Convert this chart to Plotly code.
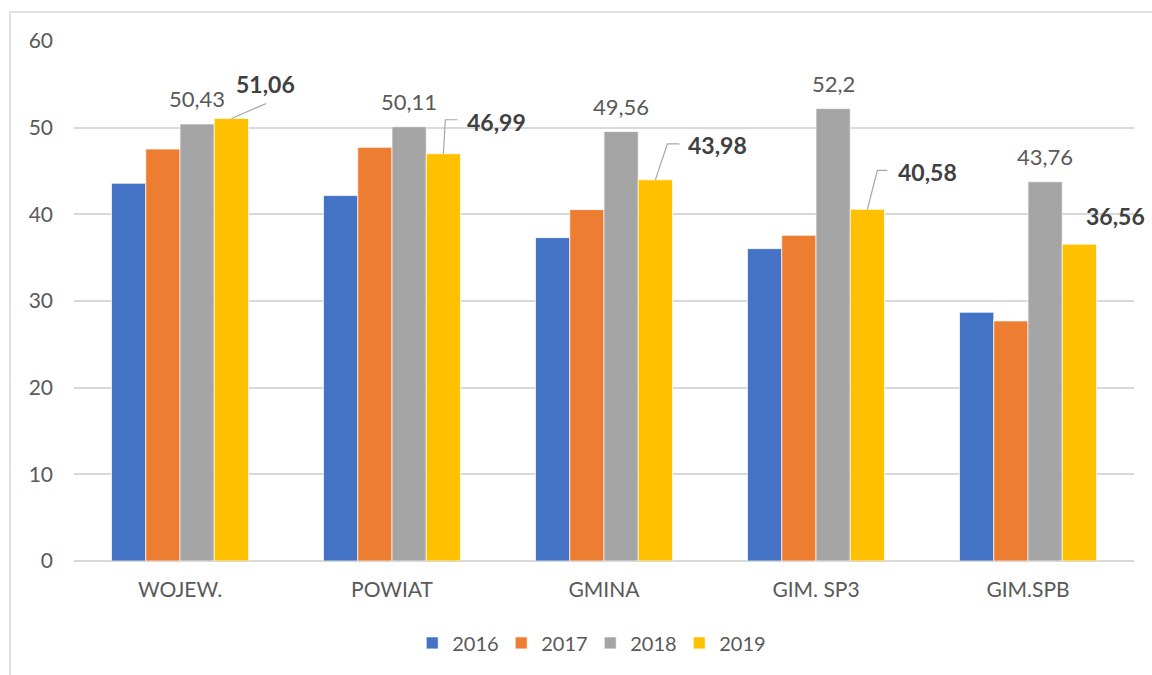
import plotly.graph_objects as go

categories = ["WOJEW.", "POWIAT", "GMINA", "GIM. SP3", "GIM.SPB"]
years = ["2016", "2017", "2018", "2019"]
v2016 = [43.58, 42.16, 37.31, 36.04, 28.7]
v2017 = [47.53, 47.73, 40.54, 37.58, 27.7]
v2018 = [50.43, 50.11, 49.56, 52.2, 43.76]
v2019 = [51.06, 46.99, 43.98, 40.58, 36.56]
y_ticks = [0, 10, 20, 30, 40, 50, 60]

colors = ["#4472C4", "#ED7D31", "#A5A5A5", "#FFC000"]
series = [v2016, v2017, v2018, v2019]

# layout in pixels
W, H = 1152, 675
L, R, T, B = 74, 18, 41, 114
FONT = "Lato"
TXT = "#595959"

bargap = 0.354
bw = (1 - bargap) / 4  # bar width in category units
off_gray = 0.5 * bw
off_yellow = 1.5 * bw

# label placement for 2019 (pixel offsets from bar-top centre; y up)
lab19_text = [(34, 34), (53, 32), (62, 35), (60, 37), (36, 28)]
lab19_line = [[(35, 15)], [(2, 34), (14, 34)], [(12, 36), (24, 36)], [(10, 39), (20, 39)], []]

fig = go.Figure()
for name, vals, c in zip(years, series, colors):
    fig.add_trace(go.Bar(
        name=name, x=categories, y=vals, marker_color=c,
        marker_line=dict(color="white", width=0.7),
    ))

def fmt(v):
    return f"{v:g}".replace(".", ",")

annotations = []
shapes = []
for i, v in enumerate(v2018):
    annotations.append(dict(
        x=i + off_gray, y=v, xref="x", yref="y", text=fmt(v), showarrow=False,
        yshift=25, xanchor="center", yanchor="middle",
        font=dict(family=FONT, size=22, color=TXT),
    ))
for i, v in enumerate(v2019):
    dx, dy = lab19_text[i]
    annotations.append(dict(
        x=i + off_yellow, y=v, xref="x", yref="y", text="<b>" + fmt(v) + "</b>",
        showarrow=False, xshift=dx, yshift=dy, xanchor="center", yanchor="middle",
        font=dict(family=FONT, size=23, color="#404040"),
    ))
    pts = lab19_line[i]
    if pts:
        path = "M 0 0 " + " ".join(f"L {px} {py}" for px, py in pts)
        shapes.append(dict(
            type="path", xref="x", yref="y", xsizemode="pixel", ysizemode="pixel",
            xanchor=i + off_yellow, yanchor=v, path=path,
            line=dict(color="#A6A6A6", width=1.2),
        ))

# outer chart border
pw, ph = W - L - R, H - T - B
shapes.append(dict(
    type="rect", xref="paper", yref="paper",
    x0=(10 - L) / pw, x1=(W + 5 - L) / pw,
    y0=-(B + 5) / ph, y1=(H - B - 12) / ph,
    line=dict(color="#D9D9D9", width=1.5), fillcolor="rgba(0,0,0,0)", layer="below",
))

fig.update_layout(
    width=W, height=H,
    margin=dict(l=L, r=R, t=T, b=B, autoexpand=False),
    paper_bgcolor="white", plot_bgcolor="white",
    barmode="group", bargap=bargap, bargroupgap=0,
    font=dict(family=FONT, size=20, color=TXT),
    showlegend=True,
    legend=dict(orientation="h", x=0.487, xanchor="center", y=-0.12, yanchor="top",
                font=dict(family=FONT, size=20, color=TXT), traceorder="normal",
                itemwidth=30, entrywidth=44, entrywidthmode="pixels"),
    annotations=annotations,
    shapes=shapes,
)
fig.update_xaxes(
    type="category", range=[-0.5, 4.5], showgrid=False, showline=False, automargin=False,
    ticks="", tickfont=dict(family=FONT, size=21, color=TXT), ticklabelstandoff=14,
)
fig.update_yaxes(
    range=[0, 60], tickvals=y_ticks, showgrid=True, gridcolor="#D9D9D9", gridwidth=1.5,
    zeroline=True, zerolinecolor="#D9D9D9", zerolinewidth=1.5, showline=False,
    automargin=False,
    ticks="", tickfont=dict(family=FONT, size=21, color=TXT), ticklabelstandoff=20,
)

fig.write_html("out.html", config={"displayModeBar": False},
               post_script="document.body.style.margin='0';")
